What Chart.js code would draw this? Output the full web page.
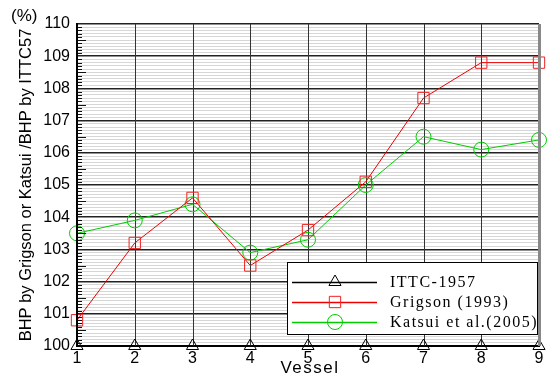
<!DOCTYPE html>
<html>
<head>
<meta charset="utf-8">
<script src="https://cdn.jsdelivr.net/npm/chart.js@4.4.1/dist/chart.umd.min.js"></script>
<style>
  html, body { margin: 0; padding: 0; background: #fff; }
  #wrap { width: 548px; height: 376px; position: relative; }
</style>
</head>
<body>
<div id="wrap"><canvas id="c" width="548" height="376"></canvas></div>
<script>
// Vessel numbers and BHP ratios (%)
const vessels = [1, 2, 3, 4, 5, 6, 7, 8, 9];
const ittc1957 = [100, 100, 100, 100, 100, 100, 100, 100, 100];
const grigson1993 = [100.8, 103.2, 104.6, 102.5, 103.6, 105.1, 107.7, 108.8, 108.8];
const katsui2005 = [103.5, 103.9, 104.4, 102.9, 103.3, 105.0, 106.5, 106.1, 106.4];
const seriesNames = ['ITTC-1957', 'Grigson (1993)', 'Katsui et al.(2005)'];

const toXY = arr => arr.map((v, i) => ({ x: vessels[i], y: v }));
const isMajor = v => Math.abs(v - Math.round(v)) < 1e-6;
const SANS = '"Liberation Sans", Arial, sans-serif';

// extra decorations: vertical grid, axis minor ticks, borders, labels, legend box
const decor = {
  id: 'decor',
  beforeDatasetsDraw(chart) {
    const { ctx, chartArea: a, scales: { x } } = chart;
    ctx.save();
    ctx.strokeStyle = '#333';
    ctx.lineWidth = 1;
    vessels.forEach(v => {
      const px = Math.round(x.getPixelForValue(v)) + 0.5;
      ctx.beginPath();
      ctx.moveTo(px, a.top);
      ctx.lineTo(px, a.bottom);
      ctx.stroke();
    });
    ctx.restore();
  },
  afterDatasetsDraw(chart) {
    const { ctx, chartArea: a, scales: { y } } = chart;
    ctx.save();
    // minor tick marks along the left axis
    ctx.strokeStyle = '#111';
    ctx.lineWidth = 1;
    for (let k = 1; k < 100; k++) {
      if (k % 10 === 0) continue;
      const py = Math.round(y.getPixelForValue(100 + k / 10)) + 0.5;
      const len = (k % 5 === 0) ? 9 : 5;
      ctx.beginPath();
      ctx.moveTo(a.left, py);
      ctx.lineTo(a.left + len, py);
      ctx.stroke();
    }
    // right border
    ctx.strokeStyle = '#888';
    ctx.lineWidth = 3;
    ctx.beginPath();
    ctx.moveTo(a.right + 0.5, a.top);
    ctx.lineTo(a.right + 0.5, a.bottom);
    ctx.stroke();
    // left border
    ctx.strokeStyle = '#000';
    ctx.lineWidth = 2;
    ctx.beginPath();
    ctx.moveTo(a.left, a.top);
    ctx.lineTo(a.left, a.bottom);
    ctx.stroke();
    // unit label and x-axis title
    ctx.fillStyle = '#000';
    ctx.font = '17px ' + SANS;
    ctx.textAlign = 'left';
    ctx.textBaseline = 'middle';
    ctx.fillText('(%)', 11, 16);
    ctx.letterSpacing = '1.5px';
    ctx.textAlign = 'center';
    ctx.fillText('Vessel', 310, 368);
    ctx.restore();
  },
  afterDraw(chart) {
    const { ctx } = chart;
    const bx = 287, by = 262, bw = 250, bh = 72;
    ctx.save();
    ctx.fillStyle = '#fff';
    ctx.fillRect(bx, by, bw, bh);
    ctx.strokeStyle = '#000';
    ctx.lineWidth = 1;
    ctx.strokeRect(bx + 0.5, by + 0.5, bw, bh);
    chart.data.datasets.forEach((ds, i) => {
      const ry = by + 20 + i * 20;
      ctx.strokeStyle = ds.borderColor;
      ctx.lineWidth = ds.borderWidth + 0.5;
      ctx.beginPath();
      ctx.moveTo(bx + 5, ry + 0.5);
      ctx.lineTo(bx + 90, ry + 0.5);
      ctx.stroke();
      ctx.fillStyle = 'rgba(0,0,0,0)';
      ctx.strokeStyle = ds.pointBorderColor;
      ctx.lineWidth = 1;
      Chart.helpers.drawPoint(ctx, {
        pointStyle: ds.pointStyle,
        radius: ds.pointRadius,
        borderWidth: 1
      }, bx + 48, ry);
      ctx.fillStyle = '#000';
      ctx.font = '16px "Liberation Serif", "Times New Roman", serif';
      ctx.letterSpacing = '1.5px';
      ctx.textAlign = 'left';
      ctx.textBaseline = 'middle';
      ctx.fillText(seriesNames[i], bx + 103, ry + 1);
    });
    ctx.restore();
  }
};

new Chart(document.getElementById('c'), {
  type: 'line',
  data: {
    datasets: [
      {
        label: seriesNames[0], data: toXY(ittc1957),
        borderColor: '#000', borderWidth: 1,
        pointStyle: 'triangle', pointRadius: 7,
        pointBorderColor: '#000', pointBackgroundColor: 'rgba(0,0,0,0)', pointBorderWidth: 1,
        clip: false
      },
      {
        label: seriesNames[1], data: toXY(grigson1993),
        borderColor: '#ee0000', borderWidth: 1,
        pointStyle: 'rect', pointRadius: 8,
        pointBorderColor: '#ee2222', pointBackgroundColor: 'rgba(0,0,0,0)', pointBorderWidth: 1,
        clip: false
      },
      {
        label: seriesNames[2], data: toXY(katsui2005),
        borderColor: '#00cc00', borderWidth: 1,
        pointStyle: 'circle', pointRadius: 7.5,
        pointBorderColor: '#00cc00', pointBackgroundColor: 'rgba(0,0,0,0)', pointBorderWidth: 1,
        clip: false
      }
    ]
  },
  options: {
    responsive: false,
    animation: false,
    devicePixelRatio: 1,
    layout: { padding: { left: 0, right: 7, top: 24, bottom: 0 } },
    plugins: { legend: { display: false }, tooltip: { enabled: false } },
    elements: { line: { tension: 0 } },
    scales: {
      x: {
        type: 'linear', min: 1, max: 9,
        afterFit(s) { s.height = 30; },
        ticks: {
          stepSize: 1, padding: 3,
          color: '#000',
          font: { family: SANS, size: 16 }
        },
        grid: { display: false, drawTicks: false },
        border: { color: '#000', width: 2 }
      },
      y: {
        type: 'linear', min: 100, max: 110,
        afterFit(s) { s.width = 77; },
        ticks: {
          stepSize: 0.1, autoSkip: false, padding: 7,
          color: '#000',
          font: { family: SANS, size: 16 },
          callback: v => isMajor(v) ? String(Math.round(v)) : ''
        },
        grid: {
          drawTicks: false,
          color: c => isMajor(c.tick.value) ? '#222' : '#d6d6d6',
          lineWidth: c => isMajor(c.tick.value) ? 1.5 : 1
        },
        border: { color: '#000', width: 2 },
        title: {
          display: true, text: 'BHP by Grigson or Katsui /BHP by ITTC57', color: '#000',
          font: { family: SANS, size: 16.5 },
          padding: { top: 17, bottom: 0 }
        }
      }
    }
  },
  plugins: [decor]
});
</script>
</body>
</html>
